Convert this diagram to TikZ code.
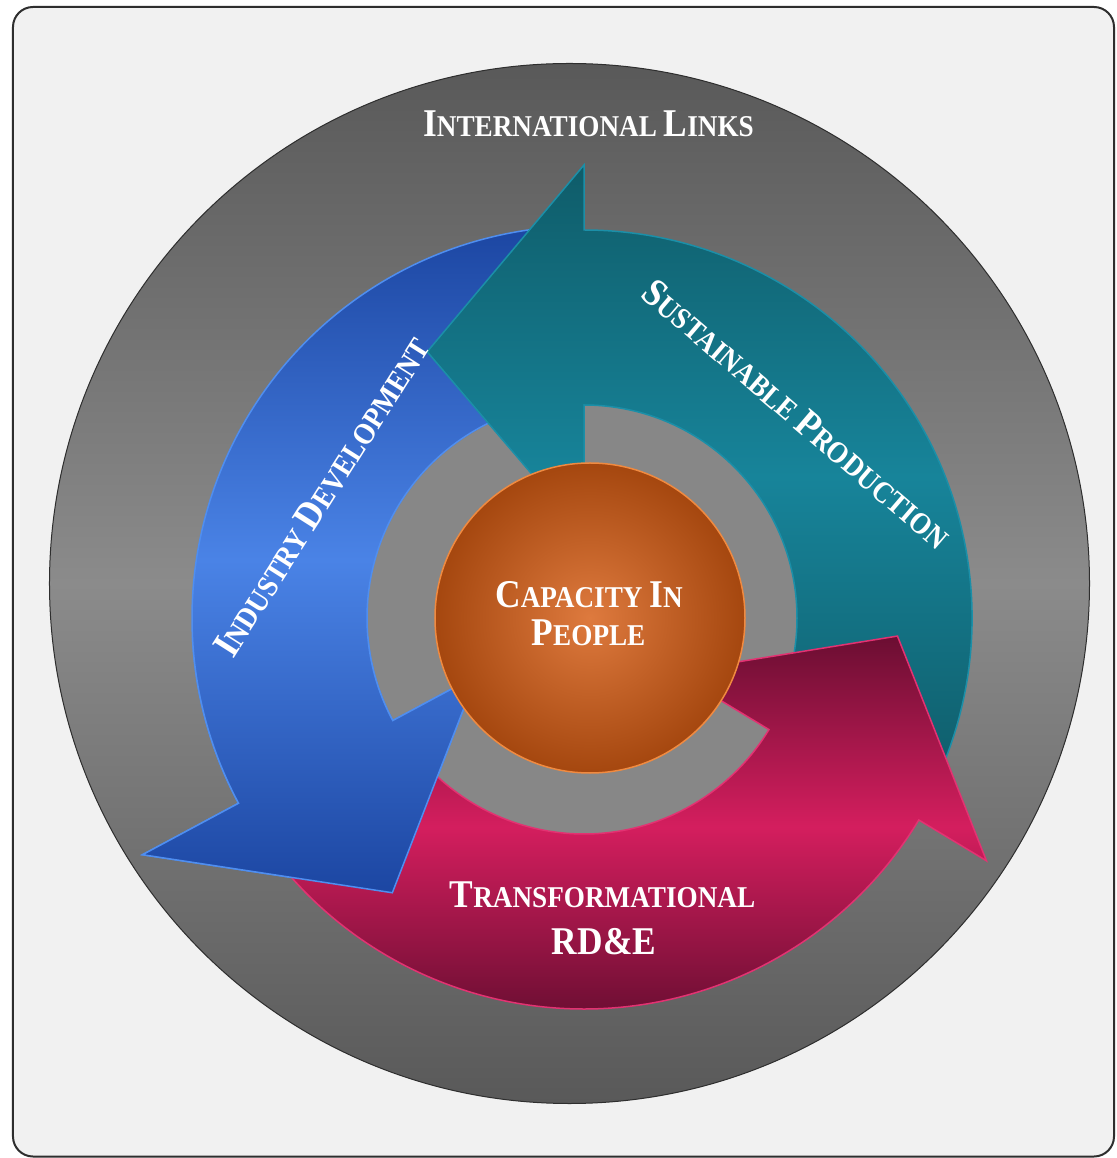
\documentclass[tikz,border=0pt]{standalone}
\usepackage{fontspec}
\newfontfamily\lblfont{Liberation Serif}[FakeStretch=0.9]
\newcommand\capsz{\fontsize{39.3}{44}\selectfont}
\newcommand\smsz{\fontsize{30.2}{34}\selectfont}
\newcommand\SCx[2]{{\capsz #1}{\smsz #2}}
\definecolor{panel}{HTML}{F1F1F1}
\definecolor{framecol}{HTML}{2E2E2E}
\definecolor{ringdark}{HTML}{595959}
\definecolor{ringmid}{HTML}{8B8B8B}
\definecolor{holegray}{HTML}{878787}
\definecolor{bluedark}{HTML}{1C46A2}
\definecolor{bluemid}{HTML}{4A83E6}
\definecolor{blueline}{HTML}{4F8EF0}
\definecolor{tealdark}{HTML}{0F5C69}
\definecolor{tealmid}{HTML}{17849A}
\definecolor{tealline}{HTML}{1B8FA8}
\definecolor{magdark}{HTML}{6B0E32}
\definecolor{magmid}{HTML}{D41E5E}
\definecolor{magline}{HTML}{E33272}
\definecolor{orangein}{HTML}{DE7A3E}
\definecolor{orangeout}{HTML}{A5470F}
\definecolor{orangeline}{HTML}{F08A40}
\tikzset{
  lbl/.style={text=white, font=\lblfont\bfseries, inner sep=0pt},
  arrowpiece/.style={line width=1.5pt, line join=miter},
  bluearrow/.style={arrowpiece, draw=blueline, top color=bluedark, bottom color=bluedark, middle color=bluemid},
  tealarrow/.style={arrowpiece, draw=tealline, top color=tealdark, bottom color=tealdark, middle color=tealmid},
  magarrow/.style={arrowpiece, draw=magline, top color=magdark, bottom color=magdark, middle color=magmid},
}
\def\bluepath{(94:392) arc[start angle=94, end angle=208.2, radius=392] -- (208.2:501) -- (235.1:335) -- (208.2:122) -- (208.2:217) arc[start angle=208.2, end angle=94, radius=217] -- cycle}
\def\tealpath{(-26:388) arc[start angle=-26, end angle=90, radius=388] -- (90:453) -- (120.5:309) -- (90:83) -- (90:213) arc[start angle=90, end angle=-26, radius=213] -- cycle}
\def\magpath{(214:391) arc[start angle=214, end angle=328.9, radius=391] -- (328.9:470) -- (356.7:314) -- (328.9:105) -- (328.9:216) arc[start angle=328.9, end angle=214, radius=216] -- cycle}
\begin{document}
\begin{tikzpicture}[x=1pt,y=1pt]
\useasboundingbox (-584,-540) rectangle (532,618);
\fill[white] (-584,-540) rectangle (532,618);
% panel
\draw[line width=2pt, draw=framecol, fill=panel, rounded corners=20pt] (-571,611) rectangle (530,-538.5);
% big ring
\node[name=ring, circle, minimum size=1040pt, inner sep=0pt, draw=framecol, line width=1pt,
      top color=ringdark, bottom color=ringdark, middle color=ringmid] at (-14.5,34.5) {};
% inner hole
\node[name=hole, circle, minimum size=432pt, inner sep=0pt, fill=holegray] at (0,0) {};
% arrows
\path[bluearrow] \bluepath;
\path[tealarrow] \tealpath;
\path[magarrow] \magpath;
\begin{scope}
  \clip (-600,-20) rectangle (-60,-600);
  \path[bluearrow] \bluepath;
\end{scope}
% centre circle
\node[name=core, circle, minimum size=310pt, inner sep=0pt, draw=orangeline, line width=1.5pt,
      inner color=orangein, outer color=orangeout] at (6,0) {};
% labels
\node[lbl, anchor=base, name=intl] at (4.5,481) {\SCx{I}{NTERNATIONAL }\SCx{L}{INKS}};
\node[lbl, anchor=base, name=cap1] at (5,10) {\SCx{C}{APACITY }\SCx{I}{N}};
\node[lbl, anchor=base, name=cap2] at (4.5,-28) {\SCx{P}{EOPLE}};
\node[lbl, anchor=base, name=tr1] at (18.5,-289) {\SCx{T}{RANSFORMATIONAL}};
\node[lbl, anchor=base, name=tr2] at (20,-336) {\capsz RD\&E};
\node[lbl, rotate=-40.5, name=sus] at (213,204) {\SCx{S}{USTAINABLE }\SCx{P}{RODUCTION}};
\node[lbl, rotate=57.6, name=ind] at (-262.5,121) {\SCx{I}{NDUSTRY }\SCx{D}{EVELOPMENT}};
\end{tikzpicture}
\end{document}
